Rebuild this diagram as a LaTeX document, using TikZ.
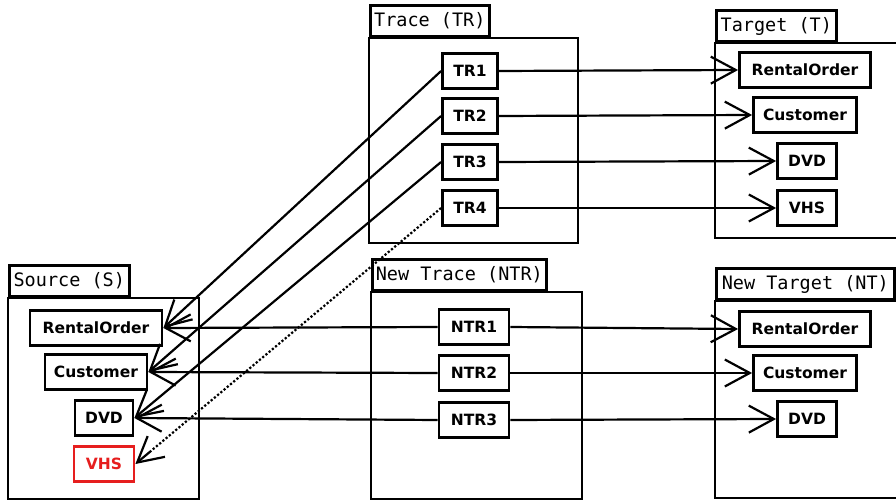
\documentclass[tikz,border=0pt]{standalone}
\usepackage{fontspec}
\setmainfont{DejaVu Sans}
\newfontfamily\monofont{DejaVu Sans Mono}
\usetikzlibrary{arrows.meta,calc}
\definecolor{vhsred}{RGB}{230,30,30}
\tikzset{
  x=1pt,y=-1pt,
  frame/.style={draw=black,line width=2.6pt},
  tab/.style={draw=black,line width=2.6pt,anchor=south west,font=\monofont\fontsize{18.5}{19}\selectfont,
    inner xsep=2pt,inner ysep=0pt,minimum height=31pt,align=left,text height=14pt,text depth=3pt},
  elem/.style={draw=black,line width=2.8pt,font=\bfseries\fontsize{15.5}{16}\selectfont,
    minimum height=35pt,inner xsep=0pt,inner ysep=0pt},
  link/.style={line width=2.2pt,-{Straight Barb[length=25pt,width=27pt,line width=2.2pt]}},
  plainline/.style={line width=2.2pt},
}
\begin{document}
\begin{tikzpicture}
\useasboundingbox (0,0) rectangle (896,502);
\fill[white] (0,0) rectangle (896,502);
\clip (0,0) rectangle (896,502);
% containers
\draw[frame] (8,298) rectangle (199,499);
\node[tab,minimum width=120pt] (tabS) at (8,298) {Source (S)};
\draw[frame] (369,38) rectangle (578,243);
\node[tab,minimum width=119pt] (tabTR) at (369,38) {Trace (TR)};
\draw[frame] (715,43) rectangle (905,238);
\node[tab,minimum width=120pt] (tabT) at (715,43) {Target (T)};
\draw[frame] (371,292) rectangle (582,499);
\node[tab,minimum width=174pt] (tabNTR) at (371,292) {New Trace (NTR)};
\draw[frame] (715,301) rectangle (905,498);
\node[tab,minimum width=178pt] (tabNT) at (715,301) {New Target (NT)};
% source elements
\node[elem,minimum width=132pt] (sRO) at (96,328) {RentalOrder};
\node[elem,minimum width=102pt] (sCu) at (96,372) {Customer};
\node[elem,minimum width=58pt] (sDVD) at (104,418) {DVD};
\node[elem,minimum width=60pt,draw=vhsred,text=vhsred] (sVHS) at (104,464) {VHS};
% trace
\node[elem,minimum width=55pt] (tr1) at (470,71) {TR1};
\node[elem,minimum width=55pt] (tr2) at (470,116) {TR2};
\node[elem,minimum width=55pt] (tr3) at (470,162) {TR3};
\node[elem,minimum width=55pt] (tr4) at (470,208) {TR4};
% target
\node[elem,minimum width=131pt] (tRO) at (805,70) {RentalOrder};
\node[elem,minimum width=103pt] (tCu) at (805,115) {Customer};
\node[elem,minimum width=59pt] (tDVD) at (807,161) {DVD};
\node[elem,minimum width=59pt] (tVHS) at (807,208) {VHS};
% new trace
\node[elem,minimum width=70pt] (ntr1) at (474,327) {NTR1};
\node[elem,minimum width=70pt] (ntr2) at (474,373) {NTR2};
\node[elem,minimum width=70pt] (ntr3) at (474,420) {NTR3};
% new target
\node[elem,minimum width=131pt] (nRO) at (805,329) {RentalOrder};
\node[elem,minimum width=103pt] (nCu) at (805,373) {Customer};
\node[elem,minimum width=59pt] (nDVD) at (807,419) {DVD};
% links
\draw[link] (tr1.west) -- (sRO.east);
\draw[link] (tr2.west) -- (sCu.east);
\draw[link] (tr3.west) -- (sDVD.east);
\coordinate (vhsTail) at ($(sVHS.east)!20pt!(tr4.west)$);
\draw[plainline,dotted] (tr4.west) -- (vhsTail);
\draw[link] (vhsTail) -- (sVHS.east);
\draw[link] (tr1.east) -- (tRO.west);
\draw[link] (tr2.east) -- (tCu.west);
\draw[link] (tr3.east) -- (tDVD.west);
\draw[link] (tr4.east) -- (tVHS.west);
\draw[link] (ntr1.west) -- (sRO.east);
\draw[link] (ntr2.west) -- (sCu.east);
\draw[link] (ntr3.west) -- (sDVD.east);
\draw[link] (ntr1.east) -- (nRO.west);
\draw[link] (ntr2.east) -- (nCu.west);
\draw[link] (ntr3.east) -- (nDVD.west);
\end{tikzpicture}
\end{document}
